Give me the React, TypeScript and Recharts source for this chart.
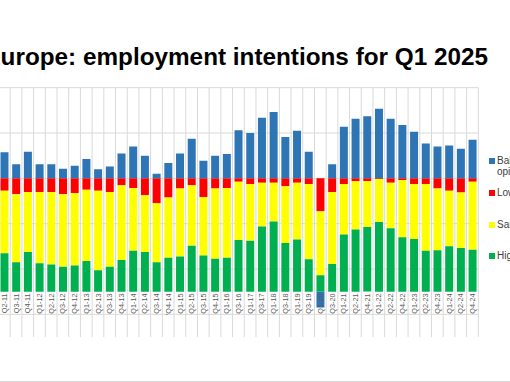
import React from 'react';
import { BarChart, Bar, XAxis, YAxis, CartesianGrid } from 'recharts';

const quarters = [
  'Q2-11', 'Q3-11', 'Q4-11', 'Q1-12', 'Q2-12', 'Q3-12', 'Q4-12', 'Q1-13', 'Q2-13', 'Q3-13',
  'Q4-13', 'Q1-14', 'Q2-14', 'Q3-14', "'Q4-14", 'Q1-15', 'Q2-15', 'Q3-15', 'Q4-15', 'Q1-16',
  'Q3-16', 'Q1-17', 'Q3-17', 'Q1-18', 'Q3-18', 'Q1-19', 'Q3-19', 'Q1-20', 'Q3-20', 'Q1-21',
  'Q2-21', 'Q4-21', 'Q1-22', 'Q2-22', 'Q4-22', 'Q1-23', 'Q2-23', 'Q4-23', 'Q1-24', 'Q2-24',
  'Q4-24',
];

// % expecting lower employment
const lowerPct = [
  11, 14, 12, 12, 12, 14, 13, 10, 11, 12,
  6, 8.5, 15, 22, 17, 9, 6, 16.5, 9, 8.5,
  3, 5, 4, 4, 7, 4, 5, 29, 12, 5,
  2.6, 2.4, 0.5, 4, 1.5, 5, 5, 9, 11, 12.5,
  3,
];

// % expecting the same employment
const samePct = [
  55, 60, 53, 63, 64, 64, 64, 63, 70, 66,
  66, 55.5, 50, 52, 53, 60, 53.5, 51.5, 62, 61.5,
  51.5, 50, 38.5, 34, 50, 50, 66.5, 56.5, 63.5, 44.5,
  42.5, 40.5, 38, 40, 50.5, 48.5, 59, 54.5, 49, 49,
  60,
];

// % expecting higher employment
const higherPct = [
  34, 26, 35, 25, 24, 22, 23, 27, 19, 22,
  28, 36, 35, 26, 30, 31, 40.5, 32, 29, 30,
  45.5, 45, 57.5, 62, 43, 46, 28.5, 14.5, 24.5, 50.5,
  55, 57, 61.5, 56, 48, 46.5, 36, 36.5, 40, 38.5,
  37,
];

// Balance of opinion (higher minus lower)
const balanceOfOpinion = [
  23, 12.5, 23.5, 12.5, 12.5, 8.5, 11, 17, 8, 10.5,
  22, 28, 20, 4, 13.5, 22, 35, 15.5, 20, 21.5,
  42.5, 40, 53.5, 58.5, 36.5, 42, 23.5, -14, 12.5, 45.5,
  52.5, 54.8, 61.5, 52.5, 47, 41, 30.8, 28, 29, 26,
  34,
];

const yTicks = [-140, -120, -100, -80, -60, -40, -20, 0, 20, 40, 60, 80];

const titleText = 'Europe: employment intentions for Q1 2025';

const legendEntries = [
  { lines: ['Balance of', 'opinion'], color: '#2E75B6' },
  { lines: ['Lower'], color: '#FF0000' },
  { lines: ['Same'], color: '#FFFF00' },
  { lines: ['Higher'], color: '#00B050' },
];

const data = quarters.map((q, i) => ({
  q,
  lower: -lowerPct[i],
  same: -samePct[i],
  higher: -higherPct[i],
  balance: balanceOfOpinion[i],
}));

const FONT = '"Liberation Sans", Arial, Helvetica, sans-serif';

// layout
const CHART_W = 520;
const CHART_H = 382;
const SHIFT_X = -10;
const MARGIN = { top: 87.67, left: 8.5, right: 31.7, bottom: 15 };
const AXIS_H = 30;
const PLOT_H = CHART_H - MARGIN.top - MARGIN.bottom - AXIS_H;
const Y_MIN = -140;
const Y_MAX = 80;
const LABEL_LEVEL = -100;
const LABEL_RAISE = ((LABEL_LEVEL - Y_MIN) / (Y_MAX - Y_MIN)) * PLOT_H - 1.8;

const QuarterTick = (props: any) => {
  const { x, y, payload } = props;
  const ty = y - LABEL_RAISE;
  return (
    <text
      x={x}
      y={ty}
      dy="0.36em"
      transform={`rotate(-90, ${x}, ${ty})`}
      textAnchor="end"
      fontSize={7.3}
      fontFamily={FONT}
      fill="#595959"
    >
      {payload.value}
    </text>
  );
};

const verticalLines = ({ offset }: any) => {
  const n = quarters.length;
  const out: number[] = [];
  for (let i = 0; i <= n; i++) out.push(offset.left + (offset.width * i) / n);
  return out;
};

export default function App() {
  return (
    <div
      style={{
        position: 'absolute',
        left: 0,
        top: 0,
        width: 510,
        height: 382,
        overflow: 'hidden',
        background: '#ffffff',
        fontFamily: FONT,
      }}
    >
      <div
        style={{
          position: 'absolute',
          left: -200,
          width: 688,
          top: 42.6,
          height: 28,
          lineHeight: '28px',
          fontSize: 24.3,
          fontWeight: 'bold',
          textAlign: 'right',
          whiteSpace: 'nowrap',
          color: '#000000',
        }}
      >
        {titleText}
      </div>

      {/* bars and grid */}
      <div style={{ position: 'absolute', left: SHIFT_X, top: 0 }}>
        <BarChart
          width={CHART_W}
          height={CHART_H}
          data={data}
          margin={MARGIN}
          stackOffset="sign"
          barCategoryGap="17%"
        >
          <CartesianGrid
            stroke="#d9d9d9"
            horizontalValues={yTicks}
            verticalCoordinatesGenerator={verticalLines}
          />
          <YAxis hide domain={[Y_MIN, Y_MAX]} ticks={yTicks} type="number" allowDataOverflow />
          <XAxis dataKey="q" height={AXIS_H} interval={0} axisLine={false} tickLine={false} tick={false} />
          <Bar dataKey="lower" stackId="s" fill="#FF0000" isAnimationActive={false} />
          <Bar dataKey="same" stackId="s" fill="#FFFF00" isAnimationActive={false} />
          <Bar dataKey="higher" stackId="s" fill="#00B050" isAnimationActive={false} />
          <Bar dataKey="balance" stackId="s" fill="#2E75B6" isAnimationActive={false} />
        </BarChart>
      </div>

      {/* category labels drawn on top of the bars */}
      <div style={{ position: 'absolute', left: SHIFT_X, top: 0, pointerEvents: 'none' }}>
        <BarChart width={CHART_W} height={CHART_H} data={data} margin={MARGIN}>
          <YAxis hide domain={[Y_MIN, Y_MAX]} type="number" />
          <XAxis
            dataKey="q"
            height={AXIS_H}
            interval={0}
            axisLine={false}
            tickLine={false}
            tickSize={0}
            tickMargin={0}
            tick={<QuarterTick />}
          />
        </BarChart>
      </div>

      {legendEntries.map((e, i) => {
        const baseline = [164, 195.5, 227.5, 259.3][i];
        return (
          <React.Fragment key={i}>
            <div
              style={{
                position: 'absolute',
                left: 489,
                top: baseline - 6,
                width: 6,
                height: 6,
                background: e.color,
              }}
            />
            <div
              style={{
                position: 'absolute',
                left: 497,
                top: baseline - 9,
                fontSize: 10,
                lineHeight: '11px',
                color: '#404040',
                whiteSpace: 'nowrap',
              }}
            >
              {e.lines.map((l, j) => (
                <div key={j}>{l}</div>
              ))}
            </div>
          </React.Fragment>
        );
      })}

      <div
        style={{
          position: 'absolute',
          left: 0,
          top: 381,
          width: 510,
          height: 1,
          background: '#d9d9d9',
        }}
      />
    </div>
  );
}
